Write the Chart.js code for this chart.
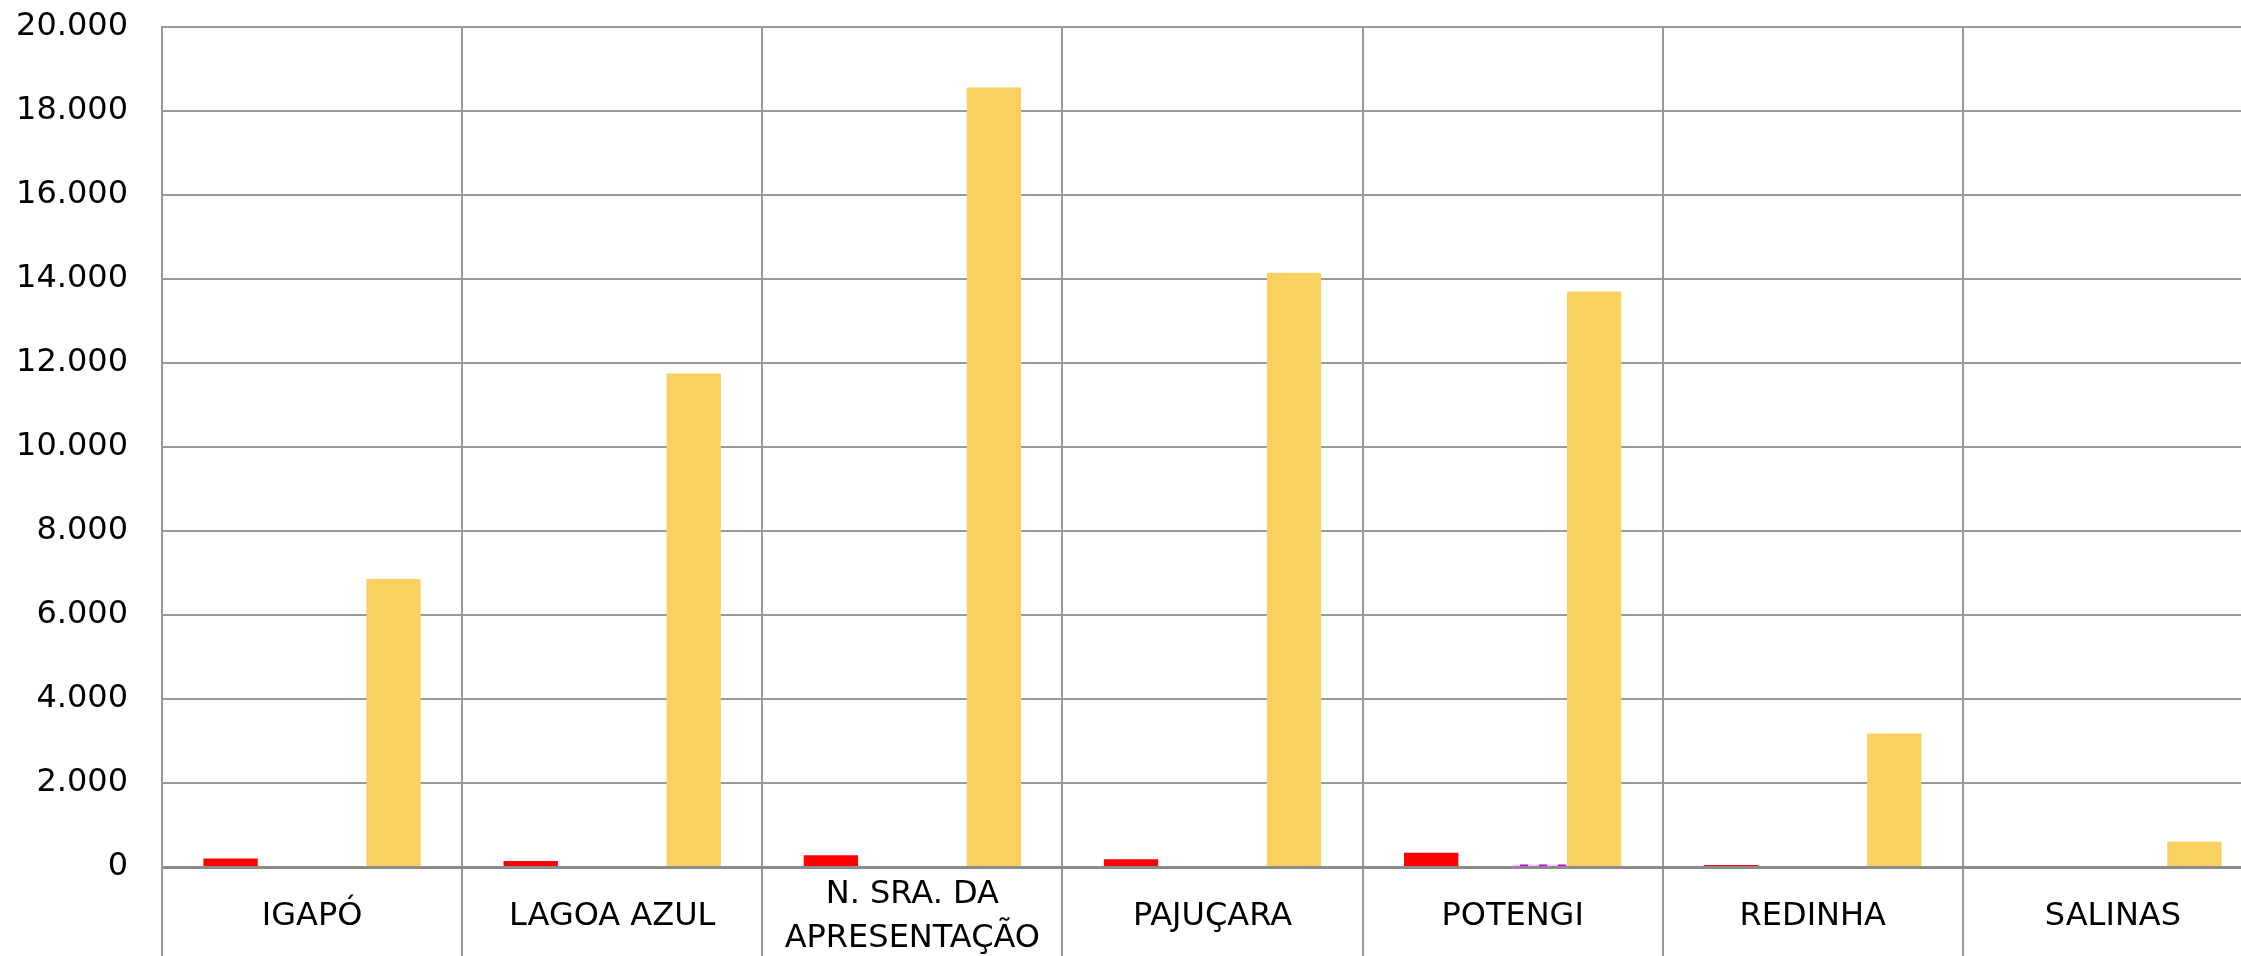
<!DOCTYPE html>
<html lang="pt-BR">
<head>
    <meta charset="UTF-8">
    <title>Bairros - Zona Norte</title>
    <style>
        html, body { margin: 0; padding: 0; background: #fff; overflow: hidden; }
        /* o gráfico original é cortado à direita, por isso é mais largo que a janela */
        .chart-box { position: relative; width: 2263px; height: 956px; }
    </style>
</head>
<body>
    <div class="chart-box">
        <canvas id="grafico"></canvas>
    </div>

    <script src="https://cdn.jsdelivr.net/npm/chart.js"></script>
    <script>
        // Dados
        const bairros = ['IGAPÓ', 'LAGOA AZUL', ['N. SRA. DA', 'APRESENTAÇÃO'], 'PAJUÇARA', 'POTENGI', 'REDINHA', 'SALINAS'];
        const serieVermelha = [205, 145, 280, 185, 340, 50, 0];
        const serieVazia = [null, null, null, null, null, null, null];
        const serieRoxa = [0, 0, 0, 0, 60, 0, 0];
        const serieAmarela = [6860, 11750, 18560, 14150, 13700, 3180, 600];
        const ticksY = [0, 2000, 4000, 6000, 8000, 10000, 12000, 14000, 16000, 18000, 20000];

        const cinza = '#999999';

        // padrão tracejado roxo
        const pc = document.createElement('canvas');
        pc.width = 19; pc.height = 6;
        const pctx = pc.getContext('2d');
        pctx.fillStyle = '#f4c8fa';
        pctx.fillRect(0, 0, 19, 6);
        pctx.fillStyle = '#c000f0';
        pctx.fillRect(0, 0, 8, 6);
        const padraoRoxo = pctx.createPattern(pc, 'repeat');

        function milhar(v) {
            return v.toString().replace(/\B(?=(\d{3})+(?!\d))/g, '.');
        }

        new Chart(document.getElementById('grafico'), {
            type: 'bar',
            data: {
                labels: bairros,
                datasets: [
                    { label: 'Série 1', data: serieVermelha, backgroundColor: '#ff0000' },
                    { label: 'Série 2', data: serieVazia, backgroundColor: '#7f7f7f' },
                    { label: 'Série 3', data: serieRoxa, backgroundColor: padraoRoxo },
                    { label: 'Série 4', data: serieAmarela, backgroundColor: '#f9d160' }
                ]
            },
            options: {
                responsive: true,
                maintainAspectRatio: false,
                animation: false,
                layout: { padding: { top: 27, left: 0, right: 0, bottom: 0 } },
                datasets: { bar: { categoryPercentage: 0.724, barPercentage: 1.0, borderWidth: 0 } },
                plugins: { legend: { display: false }, tooltip: { enabled: false } },
                scales: {
                    x: {
                        offset: true,
                        grid: { offset: true, color: cinza, tickColor: cinza, lineWidth: 2, tickLength: 89 },
                        border: { color: '#8c8c8c', width: 3 },
                        ticks: {
                            color: '#000',
                            font: { family: 'DejaVu Sans', size: 32, lineHeight: 1.38 },
                            padding: -61,
                            crossAlign: 'center',
                            maxRotation: 0,
                            autoSkip: false
                        },
                        afterFit: scale => { scale.height = 89; scale.paddingTop = 0; }
                    },
                    y: {
                        min: 0,
                        max: 20000,
                        afterBuildTicks: scale => { scale.ticks = ticksY.map(v => ({ value: v })); },
                        grid: { color: cinza, lineWidth: 2, drawTicks: false },
                        border: { color: cinza, width: 2 },
                        ticks: {
                            color: '#000',
                            padding: 34,
                            font: { family: 'DejaVu Sans', size: 32 },
                            callback: v => milhar(v)
                        },
                        afterFit: scale => { scale.width = 162; scale.paddingTop = 0; scale.paddingBottom = 0; }
                    }
                }
            }
        });
    </script>
</body>
</html>
